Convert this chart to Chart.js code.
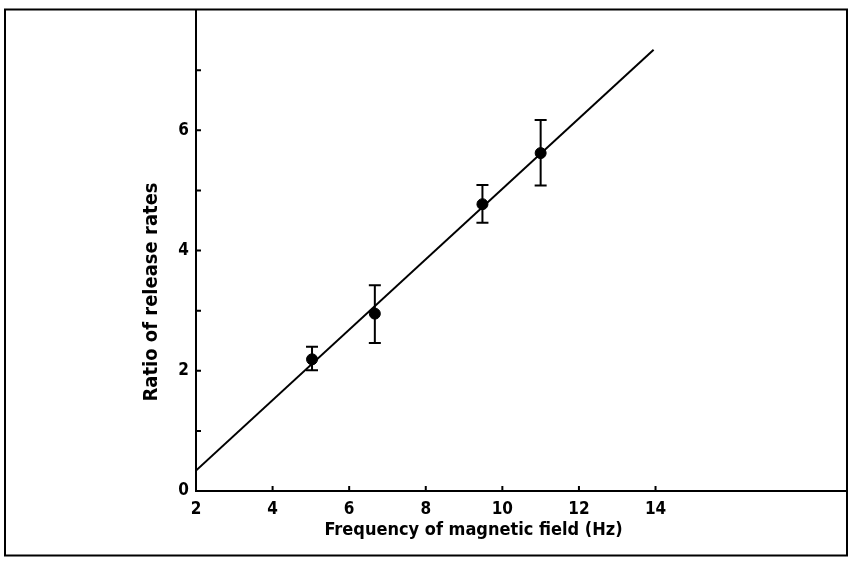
<!DOCTYPE html>
<html>
<head>
<meta charset="utf-8">
<script src="https://cdn.jsdelivr.net/npm/chart.js@4"></script>
<style>
  html, body { margin: 0; padding: 0; background: #fff; }
  canvas { display: block; }
</style>
</head>
<body>
<canvas id="c" width="848" height="561"></canvas>
<script>
// ---- data ----
const freq     = [5.03, 6.67, 9.48, 11.0];      // Hz
const ratio    = [2.19, 2.95, 4.77, 5.62];      // ratio of release rates
const errLow   = [2.01, 2.46, 4.46, 5.08];
const errHigh  = [2.40, 3.42, 5.09, 6.17];
const fitX     = [2, 13.95];
const fitY     = [0.34, 7.34];
const xTickValues = [2, 4, 6, 8, 10, 12, 14];
const yTickValues = [0, 2, 4, 6];
const yMinorTicks = [1, 2, 3, 4, 5, 6, 7];
const xMinorTicks = [4, 6, 8, 10, 12, 14];
const xTitle = 'Frequency of magnetic field (Hz)';
const yTitle = 'Ratio of release rates';

const FONT = '"DejaVu Sans Condensed", "DejaVu Sans"';

const frameAndDecor = {
  id: 'frameAndDecor',
  afterDraw(chart) {
    const ctx = chart.ctx;
    const xs = chart.scales.x, ys = chart.scales.y;
    ctx.save();
    ctx.strokeStyle = '#000';
    ctx.lineWidth = 2;
    // outer frame
    ctx.strokeRect(5, 9.5, 842, 546);
    // inward tick marks
    ctx.beginPath();
    yMinorTicks.forEach(v => {
      const y = ys.getPixelForValue(v);
      ctx.moveTo(xs.left, y); ctx.lineTo(xs.left + 5, y);
    });
    xMinorTicks.forEach(v => {
      const x = xs.getPixelForValue(v);
      ctx.moveTo(x, ys.bottom); ctx.lineTo(x, ys.bottom - 5);
    });
    ctx.stroke();
    // error bars
    ctx.beginPath();
    freq.forEach((f, i) => {
      const x = xs.getPixelForValue(f);
      const y1 = ys.getPixelForValue(errLow[i]);
      const y2 = ys.getPixelForValue(errHigh[i]);
      ctx.moveTo(x, y1); ctx.lineTo(x, y2);
      ctx.moveTo(x - 6, y1); ctx.lineTo(x + 6, y1);
      ctx.moveTo(x - 6, y2); ctx.lineTo(x + 6, y2);
    });
    ctx.stroke();
    // axis titles
    ctx.fillStyle = '#000';
    ctx.textAlign = 'center';
    ctx.textBaseline = 'middle';
    ctx.font = 'bold 18px ' + FONT;
    ctx.fillText(xTitle, 473.5, 530);
    ctx.font = 'bold 20px ' + FONT;
    ctx.translate(152, 292);
    ctx.rotate(-Math.PI / 2);
    ctx.fillText(yTitle, 0, 0);
    ctx.restore();
  }
};

new Chart(document.getElementById('c'), {
  data: {
    datasets: [
      {
        type: 'line',
        data: fitX.map((x, i) => ({ x, y: fitY[i] })),
        borderColor: '#000',
        borderWidth: 2,
        pointRadius: 0,
        fill: false
      },
      {
        type: 'scatter',
        data: freq.map((x, i) => ({ x, y: ratio[i] })),
        backgroundColor: '#000',
        borderColor: '#000',
        pointRadius: 5.5,
        pointHoverRadius: 5.5
      }
    ]
  },
  options: {
    responsive: false,
    animation: false,
    devicePixelRatio: 1,
    layout: { autoPadding: false, padding: { left: 0, top: 10, right: 1, bottom: 0 } },
    plugins: { legend: { display: false }, tooltip: { enabled: false } },
    scales: {
      x: {
        type: 'linear',
        min: 2, max: 19,
        grid: { display: false, drawTicks: false },
        border: { display: true, color: '#000', width: 2 },
        afterBuildTicks: s => { s.ticks = xTickValues.map(v => ({ value: v })); },
        afterFit: s => { s.height = 70; s.paddingLeft = 0; s.paddingRight = 0; },
        ticks: {
          autoSkip: false, maxRotation: 0, padding: 8,
          color: '#000', font: { family: FONT, size: 17, weight: 'bold' },
          callback: v => String(v)
        }
      },
      y: {
        type: 'linear',
        min: 0, max: 8,
        grid: { display: false, drawTicks: false },
        border: { display: true, color: '#000', width: 2 },
        afterBuildTicks: s => { s.ticks = yTickValues.map(v => ({ value: v })); },
        afterFit: s => { s.width = 196; s.paddingTop = 0; s.paddingBottom = 0; },
        ticks: {
          autoSkip: false, padding: 7,
          color: '#000', font: { family: FONT, size: 17, weight: 'bold' },
          callback: v => String(v)
        }
      }
    }
  },
  plugins: [frameAndDecor]
});
</script>
</body>
</html>
